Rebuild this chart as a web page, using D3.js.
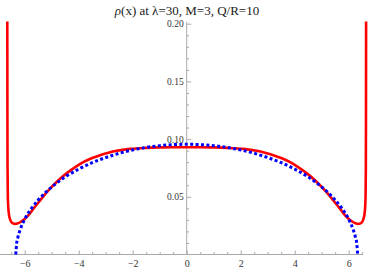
<!DOCTYPE html>
<html>
<head>
<meta charset="utf-8">
<script src="https://cdn.jsdelivr.net/npm/d3@7"></script>
<style>
  html, body { margin: 0; padding: 0; background: #fff; }
  svg text { font-family: "Liberation Serif", "Times New Roman", serif; }
</style>
</head>
<body>
<div id="chart"></div>
<script>
(function () {
  var width  = 374;
  var height = 271;
  var serif  = "'Liberation Serif', 'Times New Roman', serif";

  // red curve: rho(x)
  var redX = [-6.645, -6.64, -6.635, -6.625, -6.60, -6.55, -6.47, -6.37, -6.25, -6.10, -5.90, -5.68, -5.40, -5.06, -4.75, -4.44, -4.10, -3.83, -3.50, -3.21, -2.90, -2.59, -2.10, -1.50, -1.00, -0.50, 0,
              0.50, 1.00, 1.50, 2.10, 2.59, 2.90, 3.21, 3.50, 3.83, 4.10, 4.44, 4.75, 5.06, 5.40, 5.68, 5.90, 6.10, 6.25, 6.37, 6.47, 6.55, 6.60, 6.625, 6.635, 6.64, 6.645];
  var redY = [0.21, 0.12, 0.075, 0.05, 0.038, 0.031, 0.0275, 0.0265, 0.027, 0.029, 0.033, 0.0395, 0.0478, 0.0570, 0.0643, 0.0705, 0.0762, 0.0800, 0.0836, 0.0861, 0.0882, 0.0899, 0.0915, 0.0924, 0.0928, 0.093, 0.093,
              0.093, 0.0928, 0.0924, 0.0915, 0.0899, 0.0882, 0.0861, 0.0836, 0.0800, 0.0762, 0.0705, 0.0643, 0.0570, 0.0478, 0.0395, 0.033, 0.029, 0.027, 0.0265, 0.0275, 0.031, 0.038, 0.05, 0.075, 0.12, 0.21];

  // blue dashed curve
  var blueX = [-6.33, -6.30, -6.25, -6.17, -6.00, -5.75, -5.50, -5.00, -4.50, -4.00, -3.50, -3.00, -2.50, -2.00, -1.50, -1.00, -0.50, 0,
               0.50, 1.00, 1.50, 2.00, 2.50, 3.00, 3.50, 4.00, 4.50, 5.00, 5.50, 5.75, 6.00, 6.17, 6.25, 6.30, 6.33];
  var blueY = [0, 0.0093, 0.0151, 0.0213, 0.0305, 0.0400, 0.0472, 0.0585, 0.0672, 0.0740, 0.0796, 0.0840, 0.0877, 0.0906, 0.0928, 0.0943, 0.0952, 0.0955,
               0.0952, 0.0943, 0.0928, 0.0906, 0.0877, 0.0840, 0.0796, 0.0740, 0.0672, 0.0585, 0.0472, 0.0400, 0.0305, 0.0213, 0.0151, 0.0093, 0];

  var xMajor = [-6, -4, -2, 0, 2, 4, 6];
  var yMajor = [0.05, 0.10, 0.15, 0.20];

  var xMinor = d3.range(-6.5, 6.51, 0.5).filter(function (v) { return Math.abs(v % 2) > 1e-6; });
  var yMinor = d3.range(1, 21).map(function (i) { return i / 100; }).filter(function (v) { return yMajor.indexOf(+v.toFixed(2)) < 0; });

  var x = d3.scaleLinear().domain([-6.9, 6.55]).range([0.4, 363.55]);
  var y = d3.scaleLinear().domain([0, 0.2]).range([254.5, 23.7]);

  var svg = d3.select("#chart").append("svg")
    .attr("width", width)
    .attr("height", height)
    .style("display", "block");

  svg.append("defs").append("clipPath").attr("id", "clip")
    .append("rect").attr("x", 0).attr("y", 21.5).attr("width", width).attr("height", 240);

  // title
  svg.append("text")
    .attr("x", 187).attr("y", 15)
    .attr("text-anchor", "middle")
    .attr("font-size", "13px")
    .attr("font-family", serif)
    .attr("fill", "#222")
    .html('<tspan font-style="italic">ρ</tspan>(x) at λ=30, M=3, Q/R=10');

  var axisColor = "#aaaaaa";

  // x axis
  var gx = svg.append("g").attr("transform", "translate(0," + y(0) + ")");
  gx.call(d3.axisBottom(x).tickValues(xMajor).tickSizeInner(-4).tickSizeOuter(0).tickPadding(5).tickFormat(d3.format("d")));
  gx.call(function (g) { g.select(".domain").remove(); });
  gx.append("line").attr("x1", 0).attr("x2", 363).attr("stroke", axisColor);
  gx.append("g").call(d3.axisBottom(x).tickValues(xMinor).tickSizeInner(-2.5).tickSizeOuter(0).tickFormat(""))
    .call(function (g) { g.select(".domain").remove(); });

  // y axis
  var gy = svg.append("g").attr("transform", "translate(" + x(0) + ",0)");
  gy.call(d3.axisLeft(y).tickValues(yMajor).tickSizeInner(-4.5).tickSizeOuter(0).tickPadding(3).tickFormat(d3.format(".2f")));
  gy.call(function (g) { g.select(".domain").remove(); });
  gy.append("line").attr("y1", y(0)).attr("y2", 22).attr("stroke", axisColor);
  gy.append("g").call(d3.axisLeft(y).tickValues(yMinor).tickSizeInner(-2.5).tickSizeOuter(0).tickFormat(""))
    .call(function (g) { g.select(".domain").remove(); });

  svg.selectAll("g").attr("font-family", serif);
  svg.selectAll(".tick line").attr("stroke", axisColor);
  svg.selectAll(".tick text").attr("fill", "#333").attr("font-size", "10px")
    .attr("font-family", serif);
  gy.selectAll(".tick text").attr("font-size", "9.5px");

  var line = d3.line()
    .x(function (d) { return x(d[0]); })
    .y(function (d) { return y(d[1]); })
    .curve(d3.curveMonotoneX);

  var plot = svg.append("g").attr("clip-path", "url(#clip)");

  plot.append("path")
    .datum(d3.zip(redX, redY))
    .attr("d", line)
    .attr("fill", "none")
    .attr("stroke", "#ff0000")
    .attr("stroke-width", 2.6);

  plot.append("path")
    .datum(d3.zip(blueX, blueY))
    .attr("d", line)
    .attr("fill", "none")
    .attr("stroke", "#0000ff")
    .attr("stroke-width", 3)
    .attr("stroke-dasharray", "3,2.4");
})();
</script>
</body>
</html>
